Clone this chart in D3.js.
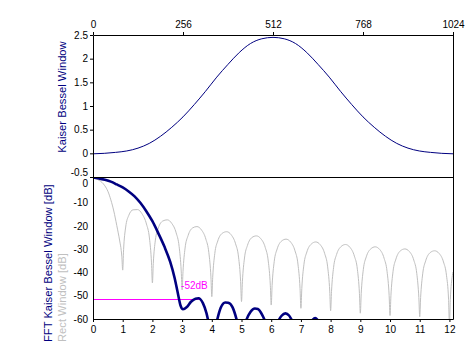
<!DOCTYPE html>
<html>
<head>
<meta charset="utf-8">
<script src="https://cdn.jsdelivr.net/npm/d3@7"></script>
<style>
  body { margin: 0; background: #fff; }
  svg { display: block; }
</style>
</head>
<body>
<svg width="471" height="362"></svg>
<script>
// window shape (top panel)
var winIndex = [0, 32, 64, 96, 128, 160, 192, 224, 256, 288, 320, 352, 384, 416, 448, 480, 512,
                544, 576, 608, 640, 672, 704, 736, 768, 800, 832, 864, 896, 928, 960, 992, 1024];
var winValue = [-0.01, 0.0, 0.02, 0.05, 0.11, 0.21, 0.36, 0.55, 0.77, 1.03, 1.31, 1.61, 1.88, 2.13, 2.32, 2.42, 2.45,
                2.42, 2.32, 2.13, 1.88, 1.61, 1.31, 1.03, 0.77, 0.55, 0.36, 0.21, 0.11, 0.05, 0.02, 0.0, -0.01];

// rect window spectrum (grey)
var rectBin = [0, 0.1, 0.2, 0.3, 0.4, 0.5, 0.6, 0.7, 0.8, 0.9, 0.95, 0.97, 1,
  1.03, 1.1, 1.2, 1.35, 1.5, 1.65, 1.8, 1.9, 1.97, 2,
  2.03, 2.1, 2.2, 2.35, 2.5, 2.65, 2.8, 2.9, 2.97, 3,
  3.03, 3.1, 3.2, 3.35, 3.5, 3.65, 3.8, 3.9, 3.97, 4,
  4.03, 4.1, 4.2, 4.35, 4.5, 4.65, 4.8, 4.9, 4.97, 5,
  5.03, 5.1, 5.2, 5.35, 5.5, 5.65, 5.8, 5.9, 5.97, 6,
  6.03, 6.1, 6.2, 6.35, 6.5, 6.65, 6.8, 6.9, 6.97, 7,
  7.03, 7.1, 7.2, 7.35, 7.5, 7.65, 7.8, 7.9, 7.97, 8,
  8.03, 8.1, 8.2, 8.35, 8.5, 8.65, 8.8, 8.9, 8.97, 9,
  9.03, 9.1, 9.2, 9.35, 9.5, 9.65, 9.8, 9.9, 9.97, 10,
  10.03, 10.1, 10.2, 10.35, 10.5, 10.65, 10.8, 10.9, 10.97, 11,
  11.03, 11.1, 11.2, 11.35, 11.5, 11.65, 11.8, 11.9, 11.97, 12,
  12.03, 12.1, 12.12];
var rectDb = [0.4, 0.2, -0.4, -1.3, -2.8, -5.1, -8.8, -13.6, -19.8, -26.5, -30.5, -33, -39,
  -30.2, -20.5, -15.6, -13.1, -13.0, -14.8, -19.2, -25.2, -35.9, -44.5,
  -36.1, -26.1, -20.9, -17.9, -17.4, -18.9, -23.0, -28.9, -39.4, -47.5,
  -39.6, -29.5, -24.2, -20.9, -20.3, -21.7, -25.7, -31.5, -41.9, -50.4,
  -42.1, -31.9, -26.5, -23.2, -22.5, -23.8, -27.7, -33.4, -43.9, -52.5,
  -44.0, -33.8, -28.4, -25.0, -24.3, -25.5, -29.3, -35.1, -45.5, -54,
  -45.6, -35.4, -29.9, -26.5, -25.7, -26.9, -30.7, -36.4, -46.8, -55.4,
  -46.9, -36.7, -31.2, -27.8, -26.9, -28.1, -31.9, -37.6, -48.0, -56.4,
  -48.1, -37.8, -32.3, -28.9, -28.0, -29.2, -33.0, -38.6, -49.0, -57.5,
  -49.1, -38.8, -33.3, -29.9, -29.0, -30.1, -33.9, -39.6, -49.9, -58.5,
  -50.0, -39.7, -34.2, -30.7, -29.9, -31.0, -34.7, -40.4, -50.8, -59,
  -50.8, -40.6, -35.0, -31.5, -30.7, -31.8, -35.5, -41.2, -51.5, -62,
  -51.6, -41.3, -39.8];

// kaiser bessel spectrum (navy)
var kbBin = [0, 0.2, 0.4, 0.6, 0.8, 1.0, 1.2, 1.4, 1.6, 1.8, 2.0, 2.2, 2.4, 2.6, 2.75,
  2.85, 2.95, 3.03, 3.15, 3.3, 3.45, 3.55, 3.7, 3.82, 3.9, 4.02, 4.15, 4.3, 4.45, 4.55,
  4.7, 4.85, 5.0, 5.15, 5.3, 5.45, 5.55, 5.7, 5.85, 6.0, 6.2, 6.35, 6.48, 6.6, 6.75,
  7.0, 7.35, 7.48, 7.6, 8.0, 8.5, 9.0, 9.5, 10.0, 10.5, 11.0, 11.5, 12.0, 12.12];
var kbDb = [0.8, 0.4, -0.2, -1.0, -2.2, -3.5, -5.2, -7.3, -10.2, -13.8, -18.0, -23.2, -28.8, -35.5, -42.5,
  -48.5, -54.3, -55.8, -55.0, -52.6, -51.3, -51.1, -53.2, -57.5, -62, -70, -62, -55.2, -52.9, -53.0,
  -55, -61, -70, -61, -57.0, -55.5, -55.7, -58.3, -63, -70, -62, -58.6, -57.6, -58.5, -62,
  -70, -61, -59.6, -61, -70, -62.5, -72, -64, -73, -65, -74, -66, -75, -70];

var indexTicks = [0, 256, 512, 768, 1024];
var winTicks = [-0.5, 0, 0.5, 1, 1.5, 2, 2.5];
var dbTicks = [0, -10, -20, -30, -40, -50, -60];
var binTicks = [0, 1, 2, 3, 4, 5, 6, 7, 8, 9, 10, 11, 12];

var markDb = -51.2, markEnd = 3.6, markLabel = "-52dB";

var svg = d3.select("svg"),
    margin = {top: 35, left: 93},
    width = 360,
    panelH = 142,
    font = "Arial, 'Liberation Sans', sans-serif",
    navy = "#000080", grey = "#c0c0c0", magenta = "#ff00ff";

var xIdx = d3.scaleLinear().domain([0, 1024]).range([0, width]),
    xBin = d3.scaleLinear().domain([0, 12.12]).range([0, width]),
    yWin = d3.scaleLinear().domain([-0.5, 2.5]).range([panelH, 0]),
    yDb = d3.scaleLinear().domain([-60, 1]).range([panelH, 0]);

var plain = function(d) { return String(d); };

var g = svg.append("g")
    .attr("transform", "translate(" + margin.left + "," + margin.top + ")");

svg.append("defs").append("clipPath").attr("id", "clipBot")
  .append("rect").attr("x", 0).attr("y", 0).attr("width", width).attr("height", panelH);

var topP = g.append("g"),
    bot = g.append("g").attr("transform", "translate(0," + panelH + ")");

// top panel
topP.append("path")
    .datum(winIndex.map(function(d, i) { return [d, winValue[i]]; }))
    .attr("fill", "none")
    .attr("stroke", navy)
    .attr("stroke-width", 1)
    .attr("d", d3.line()
      .x(function(d) { return xIdx(d[0]); })
      .y(function(d) { return yWin(d[1]); })
      .curve(d3.curveMonotoneX));

var axTop = topP.append("g")
    .call(d3.axisTop(xIdx).tickValues(indexTicks).tickSize(3).tickPadding(4).tickSizeOuter(0)
      .tickFormat(plain));

var axWin = topP.append("g")
    .call(d3.axisLeft(yWin).tickValues(winTicks).tickSize(3).tickPadding(2).tickSizeOuter(0)
      .tickFormat(plain));
axWin.selectAll(".tick text").filter(function(d) { return d === -0.5; })
    .attr("transform", "translate(0,-5)");

// bottom panel
var plot = bot.append("g").attr("clip-path", "url(#clipBot)");

plot.append("path")
    .datum(rectBin.map(function(d, i) { return [d, rectDb[i]]; }))
    .attr("fill", "none")
    .attr("stroke", grey)
    .attr("stroke-width", 1)
    .attr("d", d3.line()
      .x(function(d) { return xBin(d[0]); })
      .y(function(d) { return yDb(d[1]); })
      .curve(d3.curveMonotoneX));

plot.append("line")
    .attr("x1", xBin(0)).attr("x2", xBin(markEnd))
    .attr("y1", Math.round(yDb(markDb)) + 0.5).attr("y2", Math.round(yDb(markDb)) + 0.5)
    .attr("stroke", magenta)
    .attr("stroke-width", 1)
    .attr("shape-rendering", "crispEdges");

plot.append("path")
    .datum(kbBin.map(function(d, i) { return [d, kbDb[i]]; }))
    .attr("fill", "none")
    .attr("stroke", navy)
    .attr("stroke-width", 2.6)
    .attr("stroke-linejoin", "round")
    .attr("d", d3.line()
      .x(function(d) { return xBin(d[0]); })
      .y(function(d) { return yDb(d[1]); })
      .curve(d3.curveMonotoneX));

bot.append("text")
    .attr("x", xBin(3) - 1)
    .attr("y", yDb(markDb) - 10)
    .attr("fill", magenta)
    .attr("font-family", font)
    .attr("font-size", 10)
    .text(markLabel);

var axBin = bot.append("g")
    .attr("transform", "translate(0," + panelH + ")")
    .call(d3.axisBottom(xBin).tickValues(binTicks).tickSize(3).tickPadding(4).tickSizeOuter(0)
      .tickFormat(plain));

var axDb = bot.append("g")
    .call(d3.axisLeft(yDb).tickValues(dbTicks).tickSize(0).tickPadding(5).tickSizeOuter(0)
      .tickFormat(plain));
axDb.selectAll(".tick text").filter(function(d) { return d === 0; })
    .attr("transform", "translate(0,4)");

[axTop, axWin, axBin, axDb].forEach(function(a) {
  a.attr("font-family", font).attr("font-size", 10);
  a.selectAll("text").attr("fill", "#000");
});

// frame lines
g.append("line").attr("x1", 0).attr("x2", width + 0.5)
    .attr("y1", panelH + 0.5).attr("y2", panelH + 0.5).attr("stroke", "#000");
g.append("line").attr("x1", width + 0.5).attr("x2", width + 0.5)
    .attr("y1", 0).attr("y2", 2 * panelH + 0.5).attr("stroke", "#000");

// axis titles
g.append("text")
    .attr("transform", "translate(-31,62) rotate(-90)")
    .attr("dy", "0.35em")
    .attr("text-anchor", "middle")
    .attr("fill", navy)
    .attr("font-family", font)
    .attr("font-size", 11.2)
    .text("Kaiser Bessel Window");

g.append("text")
    .attr("transform", "translate(-45,307) rotate(-90)")
    .attr("dy", "0.35em")
    .attr("fill", navy)
    .attr("font-family", font)
    .attr("font-size", 11.2)
    .text("FFT Kaiser Bessel Window [dB]");

g.append("text")
    .attr("transform", "translate(-31,307) rotate(-90)")
    .attr("dy", "0.35em")
    .attr("fill", grey)
    .attr("font-family", font)
    .attr("font-size", 11.2)
    .text("Rect Window [dB]");
</script>
</body>
</html>
